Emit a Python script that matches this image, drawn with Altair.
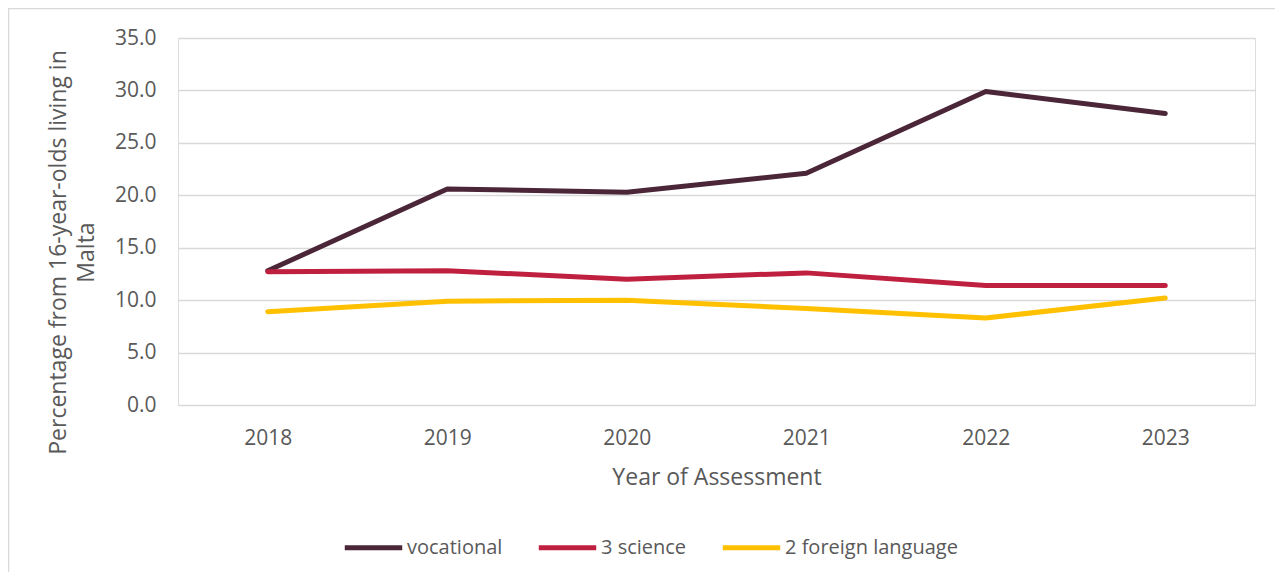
import altair as alt
import pandas as pd

years = ["2018", "2019", "2020", "2021", "2022", "2023"]
series_names = ["vocational", "3 science", "2 foreign language"]
vocational = [12.8, 20.6, 20.3, 22.1, 29.9, 27.8]
science3 = [12.7, 12.8, 12.0, 12.6, 11.4, 11.4]
foreign2 = [8.9, 9.9, 10.0, 9.2, 8.3, 10.2]
colors = ["#4B2638", "#C0203F", "#FFC000"]

rows = []
for name, vals in zip(series_names, [vocational, science3, foreign2]):
    for y, v in zip(years, vals):
        rows.append({"Year": y, "Series": name, "Value": v})
df = pd.DataFrame(rows)

FONT = "Open Sans"
TXT = "#595959"

lines = alt.Chart(df).mark_line(strokeWidth=5, strokeCap="round", strokeJoin="round").encode(
    x=alt.X("Year:N", sort=years,
            scale=alt.Scale(type="point", padding=0.5),
            axis=alt.Axis(title="Year of Assessment", labelAngle=0, domain=False, ticks=False,
                          grid=False, labelPadding=22, titlePadding=18,
                          labelFontSize=21, titleFontSize=23, labelColor=TXT, titleColor=TXT,
                          labelFont=FONT, titleFont=FONT, titleFontWeight="normal")),
    y=alt.Y("Value:Q", scale=alt.Scale(domain=[0, 35], nice=False),
            axis=alt.Axis(values=[0, 5, 10, 15, 20, 25, 30, 35], format=".1f",
                          title=["Percentage from 16-year-olds living in", "Malta"],
                          domain=False, ticks=False, grid=True, gridColor="#D9D9D9", gridWidth=1.5,
                          labelPadding=22, labelFontSize=21, titleFontSize=23,
                          labelColor=TXT, titleColor=TXT, labelFont=FONT, titleFont=FONT,
                          titleFontWeight="normal", titleAngle=-90, titleAnchor="middle",
                          titleAlign="center", titleBaseline="bottom", titleX=-108, titleY=214,
                          titleLineHeight=28)),
    color=alt.Color("Series:N", sort=series_names,
                    scale=alt.Scale(domain=series_names, range=colors),
                    legend=alt.Legend(title=None, orient="none", legendX=164, legendY=478,
                                      direction="horizontal", symbolType="stroke",
                                      symbolSize=3300, symbolStrokeWidth=5,
                                      labelFontSize=20, labelFont=FONT, labelColor=TXT,
                                      labelLimit=400, labelOffset=2, columnPadding=25)),
)

border = alt.Chart(pd.DataFrame({"a": [0]})).mark_rect(
    filled=False, stroke="#D9D9D9", strokeWidth=1.5
).encode(
    x=alt.value(-169.5), x2=alt.value(1200), y=alt.value(-29.5), y2=alt.value(700)
)

chart = alt.layer(border, lines).properties(
    width=1077, height=367,
    autosize=alt.AutoSizeParams(type="none"),
    padding={"left": 170, "top": 30, "right": 20, "bottom": 167},
).configure_view(stroke=None).configure(background="white")

chart.save("out.html", embed_options={"renderer": "svg", "actions": False})
